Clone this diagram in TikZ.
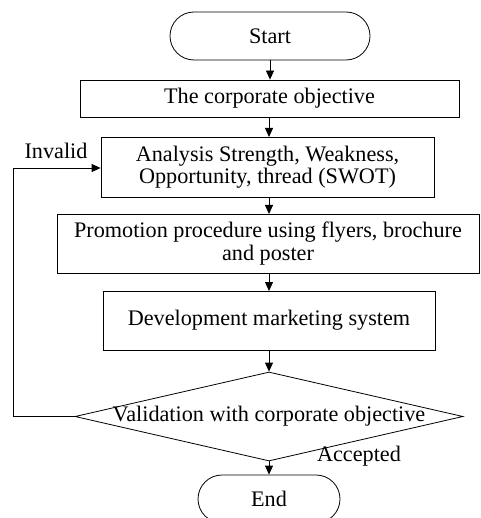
\documentclass[tikz,border=0pt]{standalone}
\usepackage{fontspec}
\setmainfont{Liberation Serif}
\usetikzlibrary{shapes.geometric,shapes.misc,arrows.meta}
\begin{document}
\begin{tikzpicture}[x=1pt,y=-1pt,
  every node/.style={font=\fontsize{22.2}{22.5}\selectfont},
  term/.style={draw,rounded rectangle,inner sep=0pt,line width=0.8pt},
  proc/.style={draw,rectangle,inner sep=0pt,line width=0.8pt,align=center},
  dec/.style={draw,diamond,inner sep=0pt,line width=0.8pt},
  flow/.style={-{Triangle[length=9pt,width=8pt]},line width=0.8pt},
  lbl/.style={inner sep=0pt}]
\useasboundingbox (0,0) rectangle (480,518);
\begin{scope}
\clip (0,0) rectangle (480,518);
\node[term,minimum width=200pt,minimum height=48pt] (start) at (270,36) {Start};
\node[proc,minimum width=379pt,minimum height=37pt] (b1) at (269.5,98.5) {The corporate objective};
\node[proc,minimum width=333pt,minimum height=60pt] (b2) at (267.5,167) {Analysis Strength, Weakness,\\Opportunity, thread (SWOT)};
\node[proc,minimum width=422pt,minimum height=59pt] (b3) at (268,243.5) {Promotion procedure using flyers, brochure\\and poster};
\node[proc,minimum width=332pt,minimum height=59pt] (b4) at (269,320.5) {Development marketing system};
\node[dec,minimum width=388pt,minimum height=89pt] (d) at (269,416.5) {\makebox[0pt]{Validation with corporate objective}};
\node[term,minimum width=142pt,minimum height=48pt] (end) at (269,499) {End};
\coordinate (c1) at (13,416.5);
\coordinate (c2) at (13,168);
\draw[flow] (start.south) -- (start.south |- b1.north);
\draw[flow] (b1.south -| 269,0) -- (269,137);
\draw[flow] (269,197) -- (269,214);
\draw[flow] (269,273) -- (269,291);
\draw[flow] (b4.south) -- (d.north);
\draw[flow] (d.south) -- (d.south |- end.north);
\draw[flow] (d.west) -- (c1) -- (c2) -- (c2 -| b2.west);
\node[lbl] (inv) at (56,151) {Invalid};
\node[lbl] (acc) at (359,456) {Accepted};
\end{scope}
\end{tikzpicture}
\end{document}
